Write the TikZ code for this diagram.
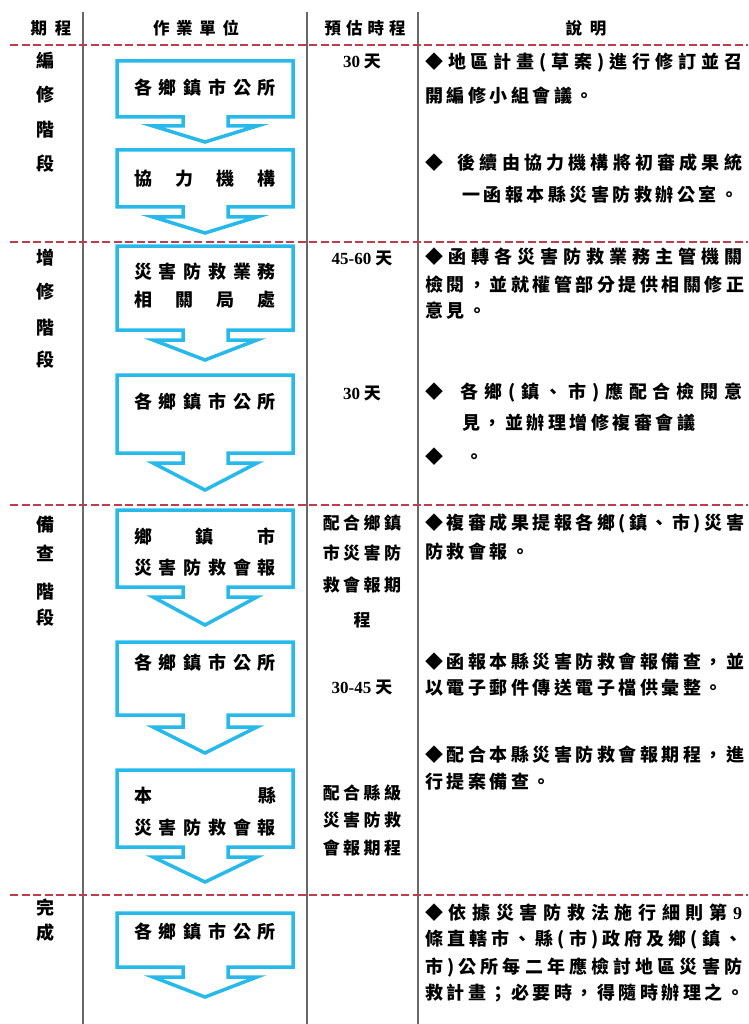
\documentclass[tikz,border=0pt]{standalone}
\usepackage{fontspec}
\setmainfont{Noto Sans CJK TC}
\newfontfamily\numfont{Liberation Serif}
\usetikzlibrary{positioning}

\definecolor{flowblue}{RGB}{40,185,235}
\definecolor{cutred}{RGB}{190,60,75}
\definecolor{rulegray}{RGB}{105,105,105}

% letter spacing between CJK characters, stretchable for justified lines
\makeatletter
\newskip\lspskip \lspskip=3.5pt plus 1fil
\def\lsp#1{\lsp@a#1\@nil}
\def\lsp@a#1#2\@nil{#1\ifx\relax#2\relax\else\hskip\lspskip\lsp@a#2\@nil\fi}
\makeatother

\newcommand\jl[2][142pt]{\hbox to #1{\lsp{#2}}}
\newcommand\num[1]{{\numfont\bfseries #1}}
\newcommand\ninedigit{\num{9}}
\newcommand\gap{\hspace{6pt}}
% box with down arrow: top, box bottom, stem bottom, tip
\newcommand\flowbox[4]{%
  \draw[flowline] (183,#2) -- (117,#2) -- (117,#1) -- (293,#1) -- (293,#2) -- (228,#2)
    -- (228,#3) -- (257,#3) -- (205,#4) -- (153,#3) -- (183,#3) -- cycle;}

\tikzset{
  flowline/.style={draw=flowblue, line width=3.5pt, line join=miter},
  cutline/.style={draw=cutred, line width=2.5pt, dash pattern=on 8pt off 3.5pt},
  colline/.style={draw=rulegray, line width=1.4pt},
  headtext/.style={font=\fontsize{16.5}{18}\selectfont\bfseries},
  stagetext/.style={font=\fontsize{18}{20}\selectfont\bfseries},
  unittext/.style={font=\fontsize{18}{20}\selectfont\bfseries},
  timetext/.style={font=\fontsize{17}{20}\selectfont\bfseries},
  desctext/.style={font=\fontsize{18}{20}\selectfont\bfseries, anchor=west},
}

\begin{document}
\begin{tikzpicture}[x=1pt,y=-1pt]
  \tikzset{every node/.append style={inner sep=0pt}}
  \useasboundingbox (0,0) rectangle (748,1024);

  % table rules
  \foreach \x in {83,307,418}
    \draw[colline] (\x,12) -- (\x,1024);
  \foreach \y in {45,242,505,895}
    \draw[cutline] (10,\y) -- (748,\y);

  % header
  \node[headtext] (h1) at (51,28) {\jl[41pt]{期程}};
  \node[headtext] (h2) at (196,28) {\jl[86pt]{作業單位}};
  \node[headtext] (h3) at (365,28) {\jl[81pt]{預估時程}};
  \node[headtext] (h4) at (586,28) {\jl[41pt]{說明}};

  % stages
  \foreach \c/\y in {編/61,修/95,階/130,段/164,增/258,修/292,階/328,段/360,
                     備/525,查/553,階/592,段/618,完/908,成/933}
    \node[stagetext] (s\y) at (45,\y) {\c};

  % flow boxes
  \flowbox{61}{117}{126}{142}
  \flowbox{150}{207}{217}{233}
  \flowbox{246}{330}{340}{360}
  \flowbox{375}{453}{463}{490}
  \flowbox{510}{587}{597}{625}
  \flowbox{642}{715}{727}{753}
  \flowbox{770}{847}{857}{882}
  \flowbox{913}{967}{977}{997}

  \node[unittext] (u1) at (205,88) {\jl{各鄉鎮市公所}};
  \node[unittext] (u2) at (205,179) {\jl{協力機構}};
  \node[unittext] (u3a) at (205,272) {\jl{災害防救業務}};
  \node[unittext] (u3b) at (205,300) {\jl{相關局處}};
  \node[unittext] (u4) at (205,402) {\jl{各鄉鎮市公所}};
  \node[unittext] (u5a) at (205,537) {\jl{鄉鎮市}};
  \node[unittext] (u5b) at (205,568) {\jl{災害防救會報}};
  \node[unittext] (u6) at (205,663) {\jl{各鄉鎮市公所}};
  \node[unittext] (u7a) at (205,796) {\jl{本縣}};
  \node[unittext] (u7b) at (205,828) {\jl{災害防救會報}};
  \node[unittext] (u8) at (205,932) {\jl{各鄉鎮市公所}};

  % time
  \node[timetext] (t1) at (362,62) {\num{30} 天};
  \node[timetext] (t2) at (362,258) {\num{45-60} 天};
  \node[timetext] (t3) at (362,393) {\num{30} 天};
  \node[timetext] (t4a) at (362,523) {\lsp{配合鄉鎮}};
  \node[timetext] (t4b) at (362,553) {\lsp{市災害防}};
  \node[timetext] (t4c) at (362,585) {\lsp{救會報期}};
  \node[timetext] (t4d) at (362,620) {程};
  \node[timetext] (t5) at (362,687) {\num{30-45} 天};
  \node[timetext] (t6a) at (362,793) {\lsp{配合縣級}};
  \node[timetext] (t6b) at (362,820) {\lsp{災害防救}};
  \node[timetext] (t6c) at (362,848) {\lsp{會報期程}};

  % notes
  \node[desctext] (d1a) at (425,63) {\jl[317pt]{◆地區計畫(草案)進行修訂並召}};
  \node[desctext] (d1b) at (425,96) {\lsp{開編修小組會議。}};
  \node[desctext] (d2a) at (425,163) {\jl[317pt]{◆\gap 後續由協力機構將初審成果統}};
  \node[desctext] (d2b) at (462,195) {\lsp{一函報本縣災害防救辦公室。}};
  \node[desctext] (d3a) at (425,257) {\jl[317pt]{◆函轉各災害防救業務主管機關}};
  \node[desctext] (d3b) at (425,285) {\jl[317pt]{檢閱，並就權管部分提供相關修正}};
  \node[desctext] (d3c) at (425,311) {\lsp{意見。}};
  \node[desctext] (d4a) at (425,393) {\jl[317pt]{◆\gap 各鄉(鎮、市)應配合檢閱意}};
  \node[desctext] (d4b) at (462,423) {\lsp{見，並辦理增修複審會議}};
  \node[desctext] (d4c) at (425,457) {◆\hspace{22pt}。};
  \node[desctext] (d5a) at (425,523) {\jl[317pt]{◆複審成果提報各鄉(鎮、市)災害}};
  \node[desctext] (d5b) at (425,552) {\lsp{防救會報。}};
  \node[desctext] (d6a) at (425,662) {\jl[317pt]{◆函報本縣災害防救會報備查，並}};
  \node[desctext] (d6b) at (425,688) {\lsp{以電子郵件傳送電子檔供彙整。}};
  \node[desctext] (d7a) at (425,755) {\jl[317pt]{◆配合本縣災害防救會報期程，進}};
  \node[desctext] (d7b) at (425,782) {\lsp{行提案備查。}};
  \node[desctext] (d8a) at (425,913) {\jl[317pt]{◆依據災害防救法施行細則第\ninedigit}};
  \node[desctext] (d8b) at (425,940) {\jl[317pt]{條直轄市、縣(市)政府及鄉(鎮、}};
  \node[desctext] (d8c) at (425,967) {\jl[317pt]{市)公所每二年應檢討地區災害防}};
  \node[desctext] (d8d) at (425,993) {\jl[317pt]{救計畫；必要時，得隨時辦理之。}};
\end{tikzpicture}
\end{document}
